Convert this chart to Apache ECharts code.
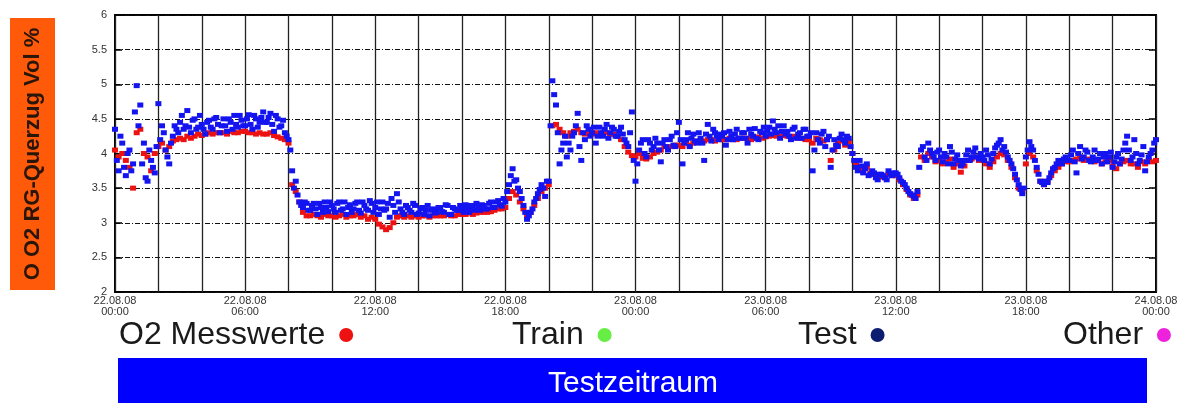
<!DOCTYPE html>
<html>
<head>
<meta charset="utf-8">
<script src="https://cdn.jsdelivr.net/npm/echarts@6/dist/echarts.min.js"></script>
<style>
html,body{margin:0;padding:0;background:#fff;}
#chart{width:1204px;height:403px;}
</style>
</head>
<body>
<div id="chart"></div>
<script>
// ---- data, one sample every 10 minutes from 22.08.08 00:00 ----
const stepHours = 1 / 6;
const xTickLabels = ['22.08.08\n00:00','22.08.08\n06:00','22.08.08\n12:00','22.08.08\n18:00',
  '23.08.08\n00:00','23.08.08\n06:00','23.08.08\n12:00','23.08.08\n18:00','24.08.08\n00:00'];
const yTickValues = [2, 2.5, 3, 3.5, 4, 4.5, 5, 5.5, 6];
const legendNames = ['O2 Messwerte', 'Train', 'Test', 'Other'];
const yAxisTitle = 'O O2 RG-Querzug Vol %';
const bannerText = 'Testzeitraum';

const messwerte = [
  4.05,3.95,4.00,3.90,3.80,3.50,   4.30,4.35,4.00,3.95,3.75,4.00,
  4.10,4.15,4.05,4.10,4.18,4.20,   4.22,4.20,4.25,4.22,4.25,4.28,
  4.26,4.28,4.30,4.28,4.30,4.30,   4.30,4.28,4.32,4.30,4.30,4.32,
  4.32,4.30,4.30,4.28,4.30,4.28,   4.28,4.30,4.26,4.24,4.22,4.20,
  4.15,3.55,3.45,3.30,3.15,3.10,   3.10,3.12,3.10,3.08,3.12,3.10,
  3.10,3.08,3.10,3.12,3.08,3.10,   3.10,3.12,3.08,3.10,3.05,3.08,
  3.05,2.98,2.94,2.90,2.93,3.00,   3.08,3.10,3.08,3.10,3.08,3.10,
  3.08,3.10,3.10,3.08,3.10,3.10,   3.10,3.10,3.12,3.10,3.10,3.12,
  3.12,3.12,3.14,3.12,3.14,3.15,   3.15,3.15,3.16,3.18,3.20,3.20,
  3.22,3.35,3.45,3.40,3.30,3.20,   3.10,3.15,3.25,3.35,3.45,3.50,
  3.55,4.40,4.42,4.35,4.30,4.25,   4.30,4.32,4.35,4.30,4.28,4.30,
  4.28,4.30,4.28,4.30,4.30,4.28,   4.28,4.25,4.20,4.10,4.02,3.97,
  3.95,4.00,3.93,3.92,3.95,4.00,   4.02,4.05,4.10,4.08,4.10,4.12,
  4.12,4.10,4.15,4.12,4.15,4.18,   4.18,4.18,4.20,4.20,4.18,4.20,
  4.20,4.20,4.22,4.20,4.20,4.22,   4.22,4.22,4.20,4.22,4.24,4.22,
  4.24,4.25,4.26,4.25,4.25,4.26,   4.25,4.24,4.25,4.22,4.22,4.20,
  4.20,4.15,4.22,4.20,4.18,4.20,   3.90,4.05,4.15,4.18,4.12,4.17,
  4.00,3.85,3.80,3.75,3.80,3.72,   3.70,3.68,3.66,3.65,3.70,3.68,
  3.68,3.62,3.55,3.48,3.40,3.35,   3.40,3.95,3.90,4.00,3.95,3.88,
  3.90,3.85,3.88,3.92,3.80,3.85,   3.73,3.82,3.90,3.92,3.95,3.90,
  3.90,3.85,3.80,3.88,3.95,4.00,   3.98,3.90,3.80,3.65,3.50,3.45,
  3.85,4.00,3.95,3.75,3.60,3.55,   3.60,3.68,3.75,3.80,3.85,3.88,
  3.88,3.90,3.92,3.95,3.90,3.92,   3.90,3.88,3.90,3.85,3.88,3.90,
  3.82,3.78,3.85,3.88,3.90,3.85,   3.85,3.80,3.88,3.85,3.90,3.88,
  3.90
];

// Test predictions on the full 10-minute marks
const testwerte = [
  4.35,3.75,4.15,3.68,4.05,3.85,   4.98,4.70,4.15,3.60,3.90,3.72,
  4.72,4.40,4.05,3.85,4.25,4.35,   4.45,4.35,4.62,4.30,4.50,4.38,
  4.42,4.28,4.48,4.35,4.52,4.30,   4.50,4.32,4.45,4.55,4.38,4.48,
  4.40,4.56,4.35,4.50,4.45,4.60,   4.45,4.58,4.32,4.50,4.40,4.30,
  4.20,3.75,3.60,3.30,3.22,3.28,   3.18,3.28,3.12,3.22,3.30,3.16,
  3.25,3.15,3.30,3.20,3.12,3.26,   3.20,3.30,3.14,3.25,3.18,3.28,
  3.22,3.12,3.30,3.20,3.08,3.25,   3.42,3.20,3.12,3.22,3.15,3.25,
  3.14,3.22,3.18,3.10,3.20,3.15,   3.22,3.15,3.25,3.12,3.20,3.18,
  3.20,3.26,3.15,3.22,3.28,3.18,   3.25,3.20,3.30,3.22,3.32,3.24,
  3.30,3.55,3.78,3.62,3.45,3.25,   3.05,3.15,3.30,3.42,3.55,3.38,
  3.60,5.05,4.70,3.85,4.15,3.95,   4.05,4.30,4.58,3.90,4.20,4.35,
  4.30,4.15,4.38,4.25,4.42,4.30,   4.35,4.25,4.38,4.20,4.10,4.60,
  3.60,4.05,4.20,3.95,4.15,4.10,   4.15,3.88,4.20,4.05,4.25,4.10,
  4.45,3.85,4.20,4.10,4.28,4.15,   4.22,3.90,4.42,4.18,4.30,4.20,
  4.25,4.12,4.32,4.20,4.35,4.22,   4.30,4.15,4.28,4.36,4.20,4.30,
  4.25,4.38,4.47,4.30,4.22,4.40,   4.32,4.20,4.38,4.28,4.22,4.35,
  4.25,3.75,4.30,4.15,4.32,4.20,   3.80,4.20,4.10,4.28,4.15,4.22,
  4.00,3.80,3.90,3.72,3.85,3.70,   3.72,3.62,3.70,3.65,3.75,3.68,
  3.72,3.65,3.58,3.50,3.42,3.38,   3.45,4.05,3.95,4.15,4.00,3.90,
  4.05,3.88,3.95,4.10,3.85,3.98,   3.82,3.90,4.05,3.95,4.08,3.92,
  3.95,4.05,3.85,4.00,4.12,4.20,   4.10,3.95,3.85,3.70,3.55,3.42,
  3.95,4.17,4.05,3.80,3.60,3.55,   3.58,3.72,3.80,3.90,3.85,3.95,
  3.90,4.05,3.72,4.10,3.95,4.02,   3.88,4.05,3.92,3.85,4.00,3.95,
  3.80,3.95,3.85,4.05,4.25,3.90,   4.20,3.85,3.98,3.75,3.95,4.05,
  4.20
];
// Test predictions in between (5 minutes after each 10-minute mark)
const testwerteZwischen = [
  3.90,4.25,3.80,4.00,3.75,4.60,   4.40,3.85,3.65,4.05,3.80,4.10,
  4.20,4.30,3.95,4.15,4.40,4.30,   4.55,4.40,4.38,4.48,4.35,4.55,
  4.35,4.45,4.38,4.50,4.42,4.40,   4.40,4.50,4.35,4.42,4.55,4.40,
  4.50,4.42,4.55,4.38,4.52,4.45,   4.52,4.42,4.55,4.38,4.48,4.25,
  4.05,3.50,3.40,3.25,3.30,3.18,   3.25,3.20,3.28,3.15,3.22,3.30,
  3.20,3.28,3.18,3.30,3.22,3.15,   3.28,3.18,3.30,3.20,3.32,3.15,
  3.30,3.20,3.18,3.28,3.35,3.15,   3.30,3.15,3.25,3.18,3.28,3.12,
  3.20,3.12,3.25,3.18,3.14,3.22,   3.16,3.26,3.12,3.22,3.18,3.25,
  3.15,3.22,3.25,3.18,3.22,3.26,   3.20,3.28,3.22,3.30,3.26,3.35,
  3.45,3.68,3.60,3.50,3.35,3.15,   3.10,3.20,3.35,3.48,3.50,3.60,
  4.40,4.85,4.30,4.05,4.25,4.15,   4.25,4.40,4.10,4.30,4.40,4.25,
  4.38,4.25,4.30,4.35,4.22,4.38,   4.25,4.32,4.28,4.15,4.30,3.90,
  3.85,4.15,4.00,4.20,4.05,4.22,   4.05,4.15,4.10,4.20,4.12,4.30,
  4.20,4.15,4.30,4.22,4.18,4.30,   4.15,4.28,4.25,4.35,4.25,4.28,
  4.30,4.20,4.25,4.28,4.22,4.30,   4.22,4.35,4.25,4.22,4.32,4.38,
  4.32,4.28,4.35,4.40,4.32,4.28,   4.25,4.35,4.22,4.30,4.35,4.25,
  4.30,4.05,4.20,4.28,4.10,4.25,   4.05,4.12,4.22,4.20,4.25,4.10,
  3.90,3.75,3.82,3.78,3.68,3.75,   3.65,3.70,3.68,3.62,3.70,3.72,
  3.70,3.60,3.55,3.45,3.40,3.35,   3.80,4.10,3.90,4.05,3.95,4.02,
  3.95,4.00,3.85,4.02,3.92,3.90,   3.85,3.98,3.90,4.02,3.95,4.00,
  3.90,3.98,3.92,4.08,4.15,4.05,   4.02,3.90,3.78,3.62,3.48,3.50,
  4.05,4.10,3.90,3.70,3.58,3.60,   3.65,3.78,3.85,3.88,3.92,3.90,
  3.98,3.88,4.00,3.92,4.05,3.90,   3.95,3.90,4.00,3.95,3.88,4.02,
  3.88,4.00,3.92,4.15,4.05,3.95,   4.00,3.90,4.10,3.88,4.00,4.15
];
const trainwerte = [];
const otherwerte = [];

// pair every value with its sample time (hours since 22.08.08 00:00)
const toPoints = (arr, offset) => arr.map((v, i) => [i * stepHours + (offset || 0), v]);

const chart = echarts.init(document.getElementById('chart'), null, {renderer: 'canvas'});
const FONT = '"Liberation Sans", Arial, sans-serif';

const legendLefts = [119, 512, 798, 1063];
const legendColors = ['#ee1111', '#66ee44', '#0c1c70', '#ee22dd'];

const option = {
  animation: false,
  backgroundColor: '#ffffff',
  grid: {left: 115, right: 48, top: 15, bottom: 111, show: true, borderColor: '#000', borderWidth: 2, backgroundColor: 'transparent'},
  xAxis: {
    type: 'value', min: 0, max: 48, interval: 2,
    axisLine: {show: false},
    axisTick: {show: false},
    axisLabel: {
      fontFamily: FONT, fontSize: 11, lineHeight: 11, color: '#333', margin: 3,
      formatter: v => (v % 6 === 0 ? xTickLabels[v / 6] : '')
    },
    splitLine: {show: true, lineStyle: {color: '#222', width: 1.3, type: 'solid'}}
  },
  yAxis: [{
    type: 'value', min: yTickValues[0], max: yTickValues[yTickValues.length - 1], interval: 0.5,
    axisLine: {show: false},
    axisTick: {show: true, inside: true, length: 7, lineStyle: {color: '#000', width: 1.5}},
    axisLabel: {fontFamily: FONT, fontSize: 11, color: '#333', margin: 8},
    splitLine: {show: true, lineStyle: {color: '#111', width: 1, type: [5, 2, 1, 2]}}
  }, {
    type: 'value', position: 'right', min: yTickValues[0], max: yTickValues[yTickValues.length - 1], interval: 0.5,
    axisLine: {show: false},
    axisTick: {show: true, inside: true, length: 7, lineStyle: {color: '#000', width: 1.5}},
    axisLabel: {show: false},
    splitLine: {show: false}
  }],
  legend: legendNames.map((n, k) => ({
    data: [{name: n, itemStyle: {color: legendColors[k], opacity: 1}}],
    left: legendLefts[k], top: 319, padding: 0,
    align: 'right', icon: 'circle', itemWidth: 14, itemHeight: 14,
    formatter: name => name + ' ',
    selectedMode: false,
    textStyle: {fontFamily: FONT, fontSize: 32, color: '#1a1a1a'}
  })),
  graphic: [
    {type: 'rect', left: 10, top: 18, shape: {width: 45, height: 272}, style: {fill: '#ff5a0a'}, z: 10},
    {type: 'text', x: 33, y: 154, rotation: Math.PI / 2,
     style: {text: yAxisTitle, fill: '#2a1608', font: 'bold 22px "Liberation Sans", Arial, sans-serif', align: 'center', verticalAlign: 'middle'}, z: 11},
    {type: 'rect', left: 118, top: 358, shape: {width: 1029, height: 45}, style: {fill: '#0000ff'}, z: 10},
    {type: 'text', x: 633, y: 384,
     style: {text: bannerText, fill: '#ffffff', font: '30px "Liberation Sans", Arial, sans-serif', align: 'center', verticalAlign: 'middle'}, z: 11}
  ],
  series: [
    {name: legendNames[0], type: 'scatter', data: toPoints(messwerte), symbol: 'rect', symbolSize: [6, 5],
     itemStyle: {color: '#ee1111', opacity: 1}, z: 2},
    {name: legendNames[1], type: 'scatter', data: toPoints(trainwerte), itemStyle: {color: legendColors[1], opacity: 1}},
    {name: legendNames[2], type: 'scatter',
     data: toPoints(testwerte).concat(toPoints(testwerteZwischen, stepHours / 2)),
     symbol: 'rect', symbolSize: [6, 5],
     itemStyle: {color: '#1414f0', opacity: 1}, z: 3},
    {name: legendNames[3], type: 'scatter', data: toPoints(otherwerte), itemStyle: {color: legendColors[3], opacity: 1}}
  ]
};
chart.setOption(option);
</script>
</body>
</html>
